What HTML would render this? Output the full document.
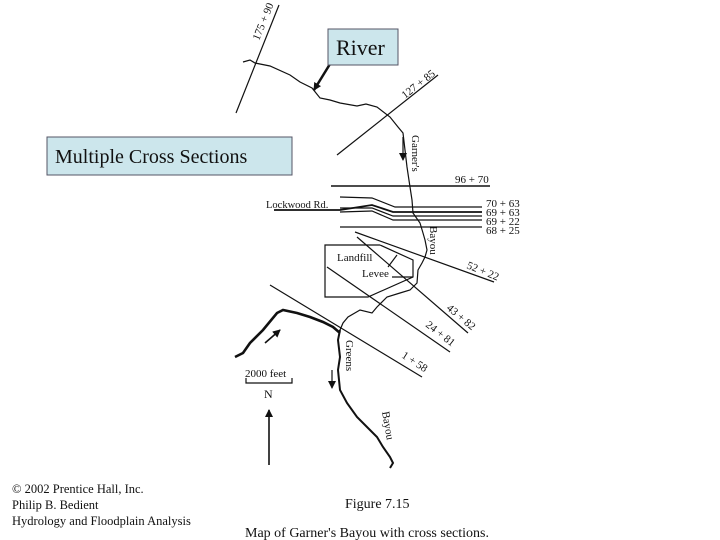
<!DOCTYPE html>
<html><head><meta charset="utf-8"><style>
body{margin:0;background:#fff;width:720px;height:540px;overflow:hidden}
svg{display:block}
text{font-family:"Liberation Serif",serif;fill:#111}
</style></head><body>
<svg width="720" height="540" viewBox="0 0 720 540">
<defs><marker id="ah" markerWidth="8" markerHeight="8" refX="7" refY="4" orient="auto" markerUnits="userSpaceOnUse"><path d="M0,0 L8,4 L0,8 z" fill="#111"/></marker></defs>
<g stroke="#111" fill="none" stroke-width="1.2">
<line x1="236" y1="113" x2="279" y2="5"/>
<polyline points="243,62 250,60 255,63 270,66 290,75 300,82 312,88 320,98 330,100 340,103 357,106 366,104 377,107 390,117 398,127 403,133 405,150 407,167 410,187 412,200 413,213 420,223 423,233 425,240 427,250 425,257 422,263 418,270 417,283 410,290 400,293 387,297 377,307 372,313 360,310 348,317 343,323 340,330"/>
<polyline points="340,330 338,340 340,357 338,370 340,390 347,403 357,417 367,427 377,437 383,447 390,457 393,463 390,468" stroke-width="2"/>
<polyline points="235,357 243,353 250,343 263,330 277,313 283,310 297,313 310,317 323,322 333,327 340,333" stroke-width="2.6"/>
<line x1="337" y1="155" x2="438" y2="75"/>
<line x1="331" y1="186" x2="490" y2="186" stroke-width="1.6"/>
<polyline points="340,197 372,198 395,207 482,207"/>
<polyline points="274,210 340,210 372,205 393,212 482,212" stroke-width="1.8"/>
<polyline points="340,208 372,208 393,216 482,216"/>
<polyline points="340,212 372,211 393,220 482,220"/>
<line x1="340" y1="227" x2="482" y2="227"/>
<polyline points="380,245 325,245 325,297 368,297 413,277 413,260 380,245"/>
<line x1="397" y1="255" x2="388" y2="267"/>
<line x1="392" y1="277" x2="413" y2="277"/>
<line x1="355" y1="232" x2="494" y2="282"/>
<line x1="357" y1="237" x2="468" y2="333"/>
<line x1="327" y1="267" x2="450" y2="352"/>
<line x1="270" y1="285" x2="422" y2="377"/>
<line x1="403" y1="137" x2="403" y2="160" marker-end="url(#ah)"/>
<line x1="332" y1="370" x2="332" y2="388" marker-end="url(#ah)"/>
<line x1="265" y1="343" x2="280" y2="330" marker-end="url(#ah)" stroke-width="1.6"/>
<line x1="269" y1="465" x2="269" y2="410" marker-end="url(#ah)" stroke-width="1.6"/>
<polyline points="246,378 246,383 292,383 292,378"/>
<line x1="330" y1="64" x2="314" y2="90" stroke-width="2.5" marker-end="url(#ah)"/>
</g>
<rect x="328" y="29" width="70" height="36" fill="#cce6ec" stroke="#556"/>
<text x="336" y="55" font-size="22">River</text>
<rect x="47" y="137" width="245" height="38" fill="#cce6ec" stroke="#556"/>
<text x="55" y="163" font-size="20">Multiple Cross Sections</text>
<g font-size="11">
<text transform="translate(259,41) rotate(-68)">175 + 90</text>
<text transform="translate(405,99) rotate(-38)">127 + 85</text>
<text transform="translate(412,135) rotate(90)">Garner's</text>
<text x="455" y="183">96 + 70</text>
<text x="266" y="208" font-size="10.5">Lockwood Rd.</text>
<text x="486" y="207">70 + 63</text>
<text x="486" y="216">69 + 63</text>
<text x="486" y="225">69 + 22</text>
<text x="486" y="234">68 + 25</text>
<text transform="translate(430,226) rotate(90)">Bayou</text>
<text x="337" y="261">Landfill</text>
<text x="362" y="277">Levee</text>
<text transform="translate(466,268) rotate(22)">52 + 22</text>
<text transform="translate(446,309) rotate(40)">43 + 82</text>
<text transform="translate(425,326) rotate(38)">24 + 81</text>
<text transform="translate(401,357) rotate(33)">1 + 58</text>
<text transform="translate(346,340) rotate(90)">Greens</text>
<text transform="translate(382,412) rotate(80)">Bayou</text>
<text x="245" y="377">2000 feet</text>
<text x="264" y="398" font-size="12">N</text>
</g>
<g font-size="12.5">
<text x="12" y="493">© 2002 Prentice Hall, Inc.</text>
<text x="12" y="509">Philip B. Bedient</text>
<text x="12" y="525">Hydrology and Floodplain Analysis</text>
<text x="345" y="508" font-size="14">Figure 7.15</text>
<text x="245" y="537" font-size="14">Map of Garner's Bayou with cross sections.</text>
</g>
</svg>
</body></html>
